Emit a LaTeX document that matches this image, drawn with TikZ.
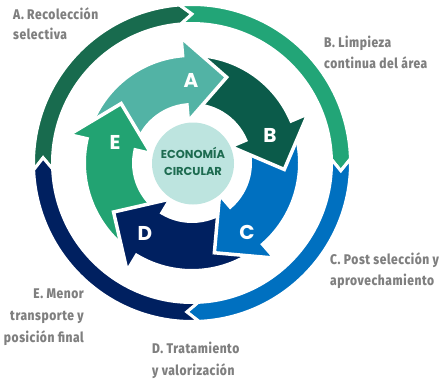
\documentclass[tikz,border=0pt]{standalone}
\usepackage{fontspec}
\newfontfamily\labfont{Fira Sans ExtraBold}[FakeStretch=0.86, LetterSpace=4]
\newfontfamily\popfont{Poppins}
\definecolor{rdgreen}{HTML}{186B4E}
\definecolor{rgreen}{HTML}{22A577}
\definecolor{rblue}{HTML}{0070C0}
\definecolor{rnavy}{HTML}{002060}
\definecolor{ateal}{HTML}{52B3A5}
\definecolor{bdgreen}{HTML}{0B5B4A}
\definecolor{egreen}{HTML}{22A372}
\definecolor{circfill}{HTML}{BDE4DF}
\definecolor{ctext}{HTML}{1D6B50}
\definecolor{labgray}{HTML}{7F7F7F}
\newcommand\ringseg[3]{%
  \path[fill=#1, draw=white, line width=3pt, line join=miter]
    ({#2+4.5}:158.5pt) arc[start angle={#2+4.5}, end angle={#3+4.5}, radius=158.5pt]
    -- (#3:149pt) -- ({#3+4.5}:139.5pt)
    arc[start angle={#3+4.5}, end angle={#2+4.5}, radius=139.5pt]
    -- (#2:149pt) -- cycle;}
\newcommand\cyclearrow[2]{%
  \path[fill=#1, draw=white, line width=3.5pt, line join=miter]
    ({#2+72}:107.75pt) arc[start angle={#2+72}, end angle={#2}, radius=107.75pt]
    -- (#2:126pt) -- ({#2-27}:92.5pt) -- (#2:42pt) -- (#2:58.25pt)
    arc[start angle={#2}, end angle={#2+72}, radius=58.25pt] -- cycle;}
\tikzset{
  lab/.style={font=\labfont\fontsize{14}{20}\selectfont, text=labgray, inner sep=0pt},
  letter/.style={font=\popfont\bfseries\fontsize{20}{22}\selectfont, text=white, inner sep=0pt},
}
\begin{document}
\begin{tikzpicture}[x=1pt,y=1pt]
\useasboundingbox (0,0) rectangle (447,381);
\begin{scope}[shift={(192,218)}]
  % outer ring
  \ringseg{rdgreen}{178}{90}
  \ringseg{rgreen}{90}{-3}
  \ringseg{rblue}{-3}{-92}
  \ringseg{rnavy}{268}{178}
  % inner cycle arrows
  \cyclearrow{egreen}{-193}
  \cyclearrow{rnavy}{-121}
  \cyclearrow{rblue}{-49}
  \cyclearrow{bdgreen}{23}
  \cyclearrow{ateal}{95}
  \begin{scope}
    \clip (0,0) -- (173:170pt) -- (150:190pt) -- (127:170pt) -- cycle;
    \cyclearrow{egreen}{-193}
  \end{scope}
\end{scope}
\node[circle, fill=circfill, minimum size=82pt, inner sep=0pt] (core) at (193,217.5) {};
\node[font=\popfont\bfseries\fontsize{11.5}{17}\selectfont, text=ctext, align=center] (coretext) at (193,220) {ECONOMÍA\\CIRCULAR};
\node[letter] (la) at (191,301) {A};
\node[letter] (lb) at (270,246) {B};
\node[letter] (lc) at (247,149) {C};
\node[letter] (ld) at (145,148) {D};
\node[letter] (le) at (115,239) {E};
\node[lab, anchor=base west] (ta1) at (13,361.5) {A. Recolección};
\node[lab, anchor=base west] (ta2) at (13,341) {selectiva};
\node[lab, anchor=base west] (tb1) at (324,333.5) {B. Limpieza};
\node[lab, anchor=base west] (tb2) at (324,312.5) {continua del área};
\node[lab, anchor=base west] (tc1) at (330,117) {C. Post selección y};
\node[lab, anchor=base west] (tc2) at (330,96) {aprovechamiento};
\node[lab, anchor=base east] (te1) at (84,82.7) {E. Menor};
\node[lab, anchor=base east] (te2) at (84,60.3) {transporte y};
\node[lab, anchor=base east] (te3) at (84,38.3) {posición final};
\node[lab, anchor=base west] (td1) at (152,27.7) {D. Tratamiento};
\node[lab, anchor=base west] (td2) at (152,6) {y valorización};
\end{tikzpicture}
\end{document}
